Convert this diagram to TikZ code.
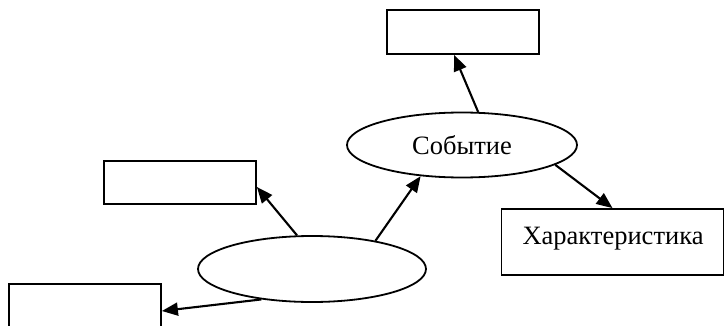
\documentclass[tikz,border=0pt]{standalone}
\usepackage{fontspec}
\setmainfont{Liberation Serif}
\usetikzlibrary{shapes.geometric,arrows.meta}
\begin{document}
\begin{tikzpicture}[x=1pt,y=-1pt,
  every node/.style={line width=1.8pt,inner sep=0pt,font=\fontsize{26.5}{30}\selectfont},
  emptybox/.style={draw,rectangle,minimum width=152pt,minimum height=44pt},
  oval/.style={draw,ellipse,minimum width=230pt,minimum height=65pt},
  conn/.style={-{Triangle[length=16pt,width=13pt]},line width=2.1pt}]
\useasboundingbox (0,0) rectangle (725,326);
\node[emptybox] (tb) at (463,32) {};
\node[emptybox,minimum height=43pt] (mb) at (180,182.5) {};
\node[emptybox] (bl) at (85,306) {};
\node[draw,rectangle,minimum width=222pt,minimum height=66pt] (ch) at (612.5,242) {};
\node at (613,239) {Характеристика};
\node[oval] (ev) at (462,145) {Событие};
\node[oval,minimum width=228pt,minimum height=66pt] (un) at (312,269) {};
\draw[conn] (ev.64) -- ([xshift=-9pt]tb.south);
\draw[conn] (ev.-12) -- (ch.north);
\draw[conn] (un.114) -- ([yshift=-4.5pt]mb.east);
\draw[conn] (un.24) -- (ev.-143);
\draw[conn] (un.-149) -- ([yshift=-5pt]bl.east);
\end{tikzpicture}
\end{document}
